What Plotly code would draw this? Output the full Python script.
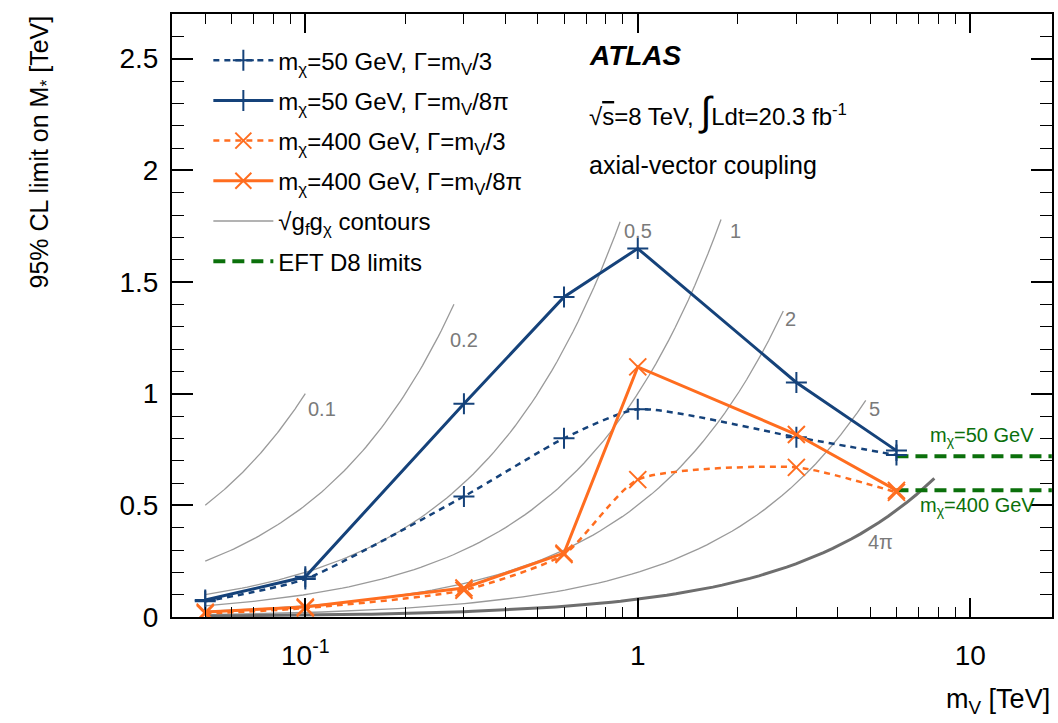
import numpy as np
import plotly.graph_objects as go

# Mediator masses (TeV) at which limits were computed
m_v = [0.05, 0.1, 0.3, 0.6, 1.0, 3.0, 6.0]

# 95% CL lower limits on M* (TeV)
lim_50_w3 = [0.070, 0.170, 0.540, 0.800, 0.930, 0.805, 0.725]
lim_50_w8pi = [0.076, 0.180, 0.955, 1.433, 1.650, 1.050, 0.745]
lim_400_w3 = [0.015, 0.040, 0.120, 0.280, 0.615, 0.670, 0.558]
lim_400_w8pi = [0.022, 0.045, 0.130, 0.286, 1.120, 0.817, 0.567]

# EFT D8 limits (TeV)
eft_mchi = ["50", "400"]
eft_limit = [0.720, 0.567]
eft_x = [6.0, 17.6]

# coupling contours sqrt(g_f g_chi): M* = m_V / g
g_vals = [0.1, 0.2, 0.5, 1.0, 2.0, 5.0, 4 * np.pi]
g_labels = ["0.1", "0.2", "0.5", "1", "2", "5", "4π"]
g_mv_start = 0.05
g_mv_end = [0.1, 0.28, 0.885, 1.78, 2.74, 4.85, 7.8]
g_label_pos = [(0.112, 0.93), (0.30, 1.24), (1.0, 1.73), (1.97, 1.73),
               (2.89, 1.335), (5.14, 0.93), (5.36, 0.335)]

# axis ticks
x_major = [0.1, 1, 10]
x_major_text = ["10<sup>-1</sup>", "1", "10"]
x_minor = [0.05, 0.06, 0.07, 0.08, 0.09, 0.2, 0.3, 0.4, 0.5, 0.6, 0.7, 0.8, 0.9,
           2, 3, 4, 5, 6, 7, 8, 9]
y_major = [0, 0.5, 1, 1.5, 2, 2.5]
y_major_text = ["0", "0.5", "1", "1.5", "2", "2.5"]

FONT = "Liberation Sans, Arial, Helvetica, sans-serif"
BLUE = "#15427a"
ORANGE = "#ff6d1f"
GREEN = "#0b700b"

fig = go.Figure()

# contours
for i, (g, mend) in enumerate(zip(g_vals, g_mv_end)):
    x = np.geomspace(g_mv_start, mend, 80)
    thick = i == len(g_vals) - 1
    fig.add_trace(go.Scatter(
        x=x, y=x / g, mode="lines",
        line=dict(color="#6e6e6e" if thick else "#9a9a9a", width=3 if thick else 1.3),
        name="√g<sub>f</sub>g<sub>χ</sub> contours",
        legendgroup="contours", showlegend=(i == 0), legendrank=5,
        hoverinfo="skip",
    ))

# EFT limits
for k, (mc, lim) in enumerate(zip(eft_mchi, eft_limit)):
    fig.add_trace(go.Scatter(
        x=eft_x, y=[lim, lim], mode="lines",
        line=dict(color=GREEN, width=4, dash="12px,7px"),
        name="EFT D8 limits", legendgroup="eft", showlegend=(k == 0), legendrank=6,
    ))

series = [
    ("m<sub>χ</sub>=50 GeV, Γ=m<sub>V</sub>/3", lim_50_w3, BLUE, "dash", "cross-thin", 1),
    ("m<sub>χ</sub>=50 GeV, Γ=m<sub>V</sub>/8π", lim_50_w8pi, BLUE, "solid", "cross-thin", 2),
    ("m<sub>χ</sub>=400 GeV, Γ=m<sub>V</sub>/3", lim_400_w3, ORANGE, "dash", "x-thin", 3),
    ("m<sub>χ</sub>=400 GeV, Γ=m<sub>V</sub>/8π", lim_400_w8pi, ORANGE, "solid", "x-thin", 4),
]
for name, vals, col, dash, sym, rank in series:
    dashed = dash == "dash"
    fig.add_trace(go.Scatter(
        x=m_v, y=vals, mode="lines+markers", name=name,
        line=dict(color=col, width=2.5 if dashed else 3,
                  dash="6px,5px" if dashed else "solid",
                  shape="spline" if dashed else "linear", smoothing=0.6),
        marker=dict(symbol=sym, size=15 if sym == "cross-thin" else 17,
                    line=dict(color=col, width=2)),
        legendgroup=name, legendrank=rank,
    ))

annotations = []
for lab, (lx, ly) in zip(g_labels, g_label_pos):
    annotations.append(dict(x=np.log10(lx), y=ly, xref="x", yref="y", text=lab,
                            showarrow=False, font=dict(size=20, color="#7a7a7a", family=FONT)))

eft_lab_pos = [(0.874, 0.806), (0.844, 0.493)]
for mc, (lx, ly) in zip(eft_mchi, eft_lab_pos):
    annotations.append(dict(x=lx, y=ly, xref="x", yref="y", xanchor="left",
                            text=f"m<sub>χ</sub>={mc} GeV", showarrow=False,
                            font=dict(size=20, color=GREEN, family=FONT)))

annotations += [
    dict(x=0.4717, y=0.932, xref="paper", yref="paper", xanchor="left", yanchor="middle",
         showarrow=False,
         text="<b><i>ATLAS</i></b>", font=dict(size=28, color="black", family=FONT)),
    dict(x=0.4717, y=0.8375, xref="paper", yref="paper", xanchor="left", yanchor="middle",
         showarrow=False,
         text="√<span style='text-decoration:overline'>s</span>=8 TeV, "
              "<span style='font-size:40px'>∫</span>Ldt=20.3 fb<sup>-1</sup>",
         font=dict(size=24, color="black", family=FONT)),
    dict(x=0.4717, y=0.7496, xref="paper", yref="paper", xanchor="left", yanchor="middle",
         showarrow=False,
         text="axial-vector coupling", font=dict(size=25, color="black", family=FONT)),
    dict(x=-0.15, y=1.0, xref="paper", yref="paper", xanchor="center", yanchor="top",
         textangle=-90, showarrow=False,
         text="95% CL limit on M<sub>*</sub> [TeV]", font=dict(size=25, color="black", family=FONT)),
    dict(x=1.0, y=-0.14, xref="paper", yref="paper", xanchor="right", yanchor="middle",
         showarrow=False,
         text="m<sub>V</sub> [TeV]", font=dict(size=27, color="black", family=FONT)),
]

fig.update_layout(
    width=1058, height=723,
    margin=dict(l=172, r=4, t=14, b=106),
    paper_bgcolor="white", plot_bgcolor="white",
    font=dict(family=FONT, color="black"),
    annotations=annotations,
    showlegend=True,
    legend=dict(x=0.0413, y=0.96, xanchor="left", yanchor="top",
                bgcolor="rgba(0,0,0,0)", font=dict(size=24, family=FONT),
                tracegroupgap=6, itemwidth=60, traceorder="grouped"),
)
fig.update_xaxes(
    type="log", range=[-1.401, 1.246],
    tickmode="array", tickvals=x_major, ticktext=x_major_text,
    ticks="inside", ticklen=19, tickwidth=1.5, tickcolor="black",
    minor=dict(tickmode="array", tickvals=x_minor, ticks="inside", ticklen=10,
               tickwidth=1.3, tickcolor="black", showgrid=False),
    showline=True, linecolor="black", linewidth=2, mirror="ticks",
    showgrid=False, zeroline=False,
    tickfont=dict(size=28, family=FONT), ticklabelstandoff=12,
)
fig.update_yaxes(
    range=[0, 2.70],
    tickmode="array", tickvals=y_major, ticktext=y_major_text,
    ticks="inside", ticklen=21, tickwidth=1.5, tickcolor="black",
    minor=dict(ticks="inside", ticklen=12, tickwidth=1.3, tickcolor="black", dtick=0.1,
               showgrid=False),
    showline=True, linecolor="black", linewidth=2, mirror="ticks",
    showgrid=False, zeroline=False,
    tickfont=dict(size=28, family=FONT), ticklabelstandoff=6,
)

fig.write_html("out.html")
